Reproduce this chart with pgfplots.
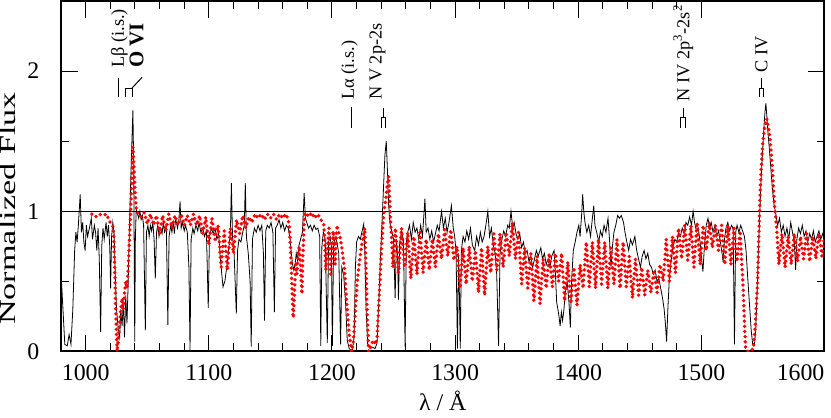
\documentclass[border=0pt]{standalone}
\usepackage{pgfplots}
\pgfplotsset{compat=1.18}
\usepackage{fontspec}
\setmainfont{Liberation Serif}
\begin{document}
\begin{tikzpicture}
\begin{axis}[
  width=384.5pt, height=176.5pt, scale only axis,
  xmin=980, xmax=1600, ymin=0, ymax=2.5,
  scaled ticks=false,
  xtick={1000,1100,...,1500}, minor x tick num=4,
  extra x ticks={1580.6}, extra x tick labels={1600}, extra x tick style={major tick length=0pt},
  ytick={0,1,2}, minor y tick num=1,
  major tick length=8.5pt, minor tick length=4pt,
  tick style={black, line width=0.5pt},
  axis line style={line width=1pt},
  tick label style={font=\fontsize{12}{14}\selectfont},
  /pgf/number format/assume math mode=true,
  /pgf/number format/1000 sep={},
  xticklabel style={anchor=base, yshift=-14.5pt},
  yticklabel style={anchor=east, inner sep=0pt, xshift=-10.8pt},
  xlabel={λ / Å}, ylabel={\scalebox{1.5}[1]{Normalized Flux}},
  xlabel style={at={(axis description cs:0.5,-0.17)}, anchor=base, font=\fontsize{12}{14}\selectfont},
  ylabel style={at={(axis description cs:-0.0585,0.408)}, anchor=south, inner sep=0pt, font=\fontsize{11.5}{14}\selectfont},
]
\addplot[black, line width=0.4pt] coordinates {(980,1) (1600,1)};
% observed spectrum
\addplot[black, line width=0.4pt] table {
980 0.55
981.5 0.3
983 0.05
985 0.04
986.5 0.12
988 0.05
989.5 0.3
991 0.72
992 0.85
993 0.78
994 0.9
995.5 1.12
996.5 0.85
997.5 0.92
998.5 0.78
999.5 0.72
1000.5 0.9
1001.5 0.82
1003 0.88
1004.5 0.95
1005.5 0.8
1007 0.9
1008 0.85
1009 0.72
1010 0.88
1011 0.66
1012.1 0.14
1013 0.75
1014 0.88
1015 0.8
1016.5 0.92
1017.5 0.82
1018.5 0.9
1019.5 0.75
1020.2 0.45
1021 0.82
1022 0.92
1023 0.85
1024 0.55
1025 0.3
1026.5 0.15
1027.5 0.1
1028.5 0.3
1029.5 0.18
1030.5 0.35
1031.5 0.1
1032.5 0.4
1033.5 0.2
1034.5 0.5
1035.5 0.9
1036.5 1.2
1037.5 1.5
1038.3 1.72
1039 1.3
1039.5 0.5
1039.8 0.07
1040.3 0.8
1041 1.02
1042 0.98
1043 0.95
1044 1.0
1045 0.94
1046 0.97
1047 0.9
1048.4 0.15
1049.3 0.85
1050.5 0.9
1051.5 0.82
1052.5 0.9
1053.5 0.86
1054.5 0.92
1055.5 0.8
1056.5 0.52
1057.5 0.85
1058.5 0.9
1059.5 0.82
1060.5 0.88
1062 0.84
1063 0.92
1064 0.85
1065.5 0.88
1066.7 0.19
1067.7 0.82
1069 0.9
1070 0.85
1071 0.92
1072 0.84
1073 0.95
1074.5 0.88
1075.5 0.92
1076.6 1.07
1077.5 0.88
1078.5 0.92
1080 0.86
1081 0.9
1082.5 0.85
1083.8 0.6
1084.7 0.01
1085.6 0.8
1087 0.88
1088 0.84
1089.5 0.9
1091 0.86
1092 0.92
1093.5 0.85
1095 0.88
1096.5 0.82
1098 0.86
1099.5 0.31
1100.5 0.82
1102 0.88
1103.5 0.84
1105 0.88
1106.5 0.8
1108 0.84
1109 0.7
1110.5 0.55
1111.5 0.46
1113 0.5
1114.5 0.6
1116 0.72
1117.5 0.85
1118.3 1.2
1119.2 0.82
1120.5 0.7
1122.3 0.27
1123.3 0.72
1124.5 0.8
1126 0.78
1127.5 0.85
1128.8 0.9
1129.6 1.2
1130.5 0.82
1132 0.7
1133.5 0.5
1134.4 0.035
1135.4 0.8
1137 0.88
1138.5 0.85
1140 0.9
1141.5 0.86
1143 0.9
1144.3 0.7
1145.2 0.22
1146.2 0.86
1147.5 0.9
1149 0.88
1150.5 0.92
1152 0.85
1153.2 0.28
1154.2 0.88
1155.5 0.9
1157 0.94
1158.5 0.88
1160 0.92
1161.5 0.86
1163 0.9
1164.5 0.88
1166 0.8
1167 0.7
1168 0.62
1169 0.58
1170 0.62
1171 0.7
1172 0.65
1173 0.75
1174.5 0.8
1176 0.85
1177.4 1.13
1178.4 0.95
1179.5 0.92
1181 0.88
1182.5 0.9
1184 0.86
1185.5 0.9
1187 0.87
1188.5 0.88
1190 0.82
1190.9 0.04
1191.8 0.75
1193 0.85
1194.5 0.8
1196.2 0.06
1197.2 0.78
1198.5 0.82
1199.5 0.75
1200.3 0.04
1201.3 0.75
1202.5 0.82
1204 0.78
1205.5 0.7
1207 0.05
1208 0.6
1209.5 0.55
1211 0.35
1212.4 0.08
1214 0.02
1216.4 0.0
1218 0.1
1219 0.6
1220 0.78
1221.5 0.82
1223 0.8
1224.5 0.86
1225.8 0.91
1226.7 0.7
1227.7 0.3
1229 0.05
1231 0.02
1233 0.03
1235 0.02
1236.6 0.06
1238 0.35
1239.5 0.7
1240.8 0.95
1242 1.2
1243 1.4
1244.1 1.5
1245 1.3
1246 1.05
1247 0.92
1248.7 0.85
1250 0.8
1251.3 0.38
1252.3 0.8
1253.2 0.7
1254 0.37
1255 0.78
1256.5 0.85
1258 0.8
1259.4 0.035
1260.4 0.78
1261.5 0.85
1263 0.9
1264.5 0.8
1266 0.92
1267.5 0.85
1269 0.88
1270.5 0.8
1272 0.9
1273.5 0.82
1275.5 1.09
1276.5 0.85
1278 0.88
1279.5 0.8
1281 0.86
1282.5 0.78
1284 0.84
1285.5 0.9
1287 0.86
1289 1.0
1290.5 0.88
1292 0.95
1293.5 0.85
1295 0.92
1297 1.04
1298.5 0.88
1299.7 0.82
1300.8 0.7
1301.9 0.02
1302.8 0.7
1303.5 0.4
1304.2 0.02
1305.1 0.72
1306.5 0.82
1308 0.78
1309.5 0.86
1311 0.8
1312.5 0.88
1314 0.76
1315.9 0.72
1317.5 0.82
1319 0.76
1320.5 0.85
1322 0.78
1323.5 0.82
1325 0.9
1326.6 1.0
1328 0.82
1329.5 0.88
1331 0.76
1332.5 0.7
1333.8 0.55
1335.3 0.04
1336.5 0.7
1338 0.8
1339.5 0.86
1341 0.82
1342.7 0.9
1344 0.88
1345.4 1.0
1346.8 0.88
1348 0.92
1349.5 0.84
1351 0.8
1352.5 0.84
1354 0.74
1355.5 0.78
1357 0.7
1358.5 0.72
1360 0.64
1361.5 0.68
1363 0.6
1364.5 0.66
1366 0.72
1367.5 0.68
1369.6 0.74
1371 0.66
1372.5 0.7
1374 0.62
1375.5 0.66
1377 0.6
1378.5 0.68
1380.4 0.72
1381.5 0.55
1382.5 0.35
1383.5 0.3
1384.4 0.25
1385.3 0.18
1386.3 0.28
1387.3 0.22
1388.4 0.3
1389.5 0.42
1391 0.5
1392.5 0.35
1393.6 0.17
1394.6 0.5
1396 0.72
1397.5 0.78
1399 0.85
1400.5 0.9
1401.5 0.82
1402.8 0.98
1403.6 1.12
1404.5 1.0
1405.5 0.92
1407 0.85
1408.5 0.9
1410 0.82
1411.5 0.95
1412.6 1.04
1413.6 0.9
1415 0.85
1416.7 0.78
1418 0.86
1419.5 0.82
1421 0.9
1422.5 0.85
1424.2 0.95
1425.4 0.8
1426.6 0.6
1427.8 0.75
1429 0.85
1430.5 0.9
1432 0.97
1433.5 0.95
1435 0.97
1436.8 0.92
1438 0.85
1439.5 0.78
1441 0.72
1442.5 0.8
1444 0.76
1446 0.82
1447.5 0.72
1449 0.66
1450.5 0.6
1452 0.68
1453.5 0.72
1455 0.66
1456.5 0.7
1458 0.62
1459.5 0.6
1461 0.55
1462.5 0.58
1464 0.5
1465.5 0.52
1467 0.45
1468.5 0.38
1469.8 0.3
1470.8 0.2
1471.8 0.07
1472.8 0.3
1474 0.52
1475.5 0.65
1477 0.75
1478.5 0.8
1480 0.78
1481.5 0.85
1483 0.82
1484.5 0.88
1486 0.84
1487.5 0.92
1489 0.9
1490.5 0.96
1492 0.9
1493.3 1.0
1494.5 0.92
1496 0.86
1497.5 0.88
1499 0.78
1500.3 0.65
1501.3 0.57
1502.5 0.75
1504 0.9
1505.4 0.95
1506.8 0.88
1508 0.92
1509.5 0.85
1511 0.9
1512.5 0.82
1514 0.86
1515.5 0.78
1516.8 0.7
1517.7 0.64
1518.8 0.8
1520 0.88
1521.5 0.92
1523 0.86
1524.5 0.9
1525.8 0.88
1526.9 0.05
1527.9 0.85
1529 0.9
1530.5 0.85
1532 0.9
1533.5 0.86
1535 0.82
1536.3 0.72
1537.5 0.55
1539 0.35
1540.5 0.15
1541.7 0.05
1543 0.04
1544.2 0.15
1545.2 0.4
1546.3 0.7
1547.3 0.95
1548.4 1.2
1549.6 1.4
1550.8 1.6
1551.8 1.72
1552.4 1.77
1553.2 1.68
1554.2 1.55
1555.2 1.45
1556.5 1.3
1557.8 1.15
1559 1.05
1560.5 0.98
1562 0.9
1563.5 0.95
1565 0.85
1566.5 0.9
1568 0.82
1569.5 0.88
1571 0.8
1572.6 0.92
1574 0.85
1575.5 0.78
1576.6 0.58
1577.6 0.8
1579 0.88
1580.5 0.84
1582 0.9
1583.5 0.82
1585 0.86
1586.5 0.78
1588 0.84
1589.5 0.8
1591 0.86
1592.5 0.78
1594 0.82
1595.5 0.86
1597 0.8
1598.5 0.84
1600 0.8
};
% model spectrum
\addplot[red, line width=1.9pt, line cap=round, dash pattern=on 0pt off 2.6pt] table {
1005 0.98
1008 0.96
1011 0.98
1014 0.97
1017 0.98
1019 0.93
1021 0.91
1022.5 0.88
1023.5 0.6
1024.5 0.25
1025.5 0.0
1026.5 0.08
1027.5 0.2
1028.5 0.3
1029.5 0.38
1030.5 0.3
1031.5 0.42
1032.5 0.5
1033.5 0.45
1034.5 0.6
1035.5 0.8
1036.5 1.0
1037.5 1.25
1038.3 1.46
1039 1.35
1040 1.15
1041 1.02
1042.5 0.98
1045 0.96
1047.5 0.99
1050 0.91
1052.5 0.98
1055 0.9
1057.5 0.97
1060 0.84
1062.5 0.97
1065 0.86
1067.5 0.98
1070 0.88
1072.5 0.97
1075 0.9
1077.5 0.98
1080 0.9
1082.5 0.97
1085 0.9
1087.5 0.98
1090 0.9
1092.5 0.97
1095 0.84
1097.5 0.96
1100 0.76
1102.5 0.95
1105 0.8
1107.5 0.9
1110 0.6
1112.5 0.86
1115 0.58
1117.5 0.88
1120 0.7
1122.5 0.94
1125 0.84
1127.5 0.97
1130 0.88
1132.5 0.96
1135 0.92
1137.5 0.98
1140 0.95
1142.5 0.98
1145 0.94
1147.5 0.98
1150 0.95
1152.5 0.98
1155 0.94
1157.5 0.98
1160 0.95
1162.5 0.98
1164.5 0.94
1165.5 0.88
1166.5 0.7
1167.5 0.45
1168.5 0.24
1169.5 0.4
1170.5 0.62
1171.5 0.55
1172.5 0.7
1173.5 0.75
1174.5 0.6
1175.5 0.41
1176.5 0.7
1177.5 0.95
1178.5 0.99
1181 0.96
1183.5 0.99
1186 0.95
1188.5 0.98
1191 0.94
1193.5 0.9
1195 0.58
1197.5 0.88
1199 0.55
1201 0.86
1202.5 0.62
1204 0.9
1205.6 0.84
1207 0.8
1208.3 0.72
1210 0.6
1212 0.35
1214 0.12
1215.9 0.0
1217.5 0.08
1219 0.3
1220.5 0.5
1222 0.62
1223.5 0.72
1225 0.8
1226.6 0.88
1227.5 0.65
1228.5 0.3
1229.8 0.0
1231 0.02
1232.5 0.06
1234 0.08
1235.5 0.05
1236.6 0.1
1237.5 0.25
1238.5 0.42
1239.5 0.6
1240.5 0.78
1241.5 0.92
1242.5 1.02
1243.8 1.09
1245 1.2
1246 1.25
1246.8 1.1
1247.5 0.95
1248.3 0.82
1249.5 0.6
1251.5 0.88
1254 0.56
1256.5 0.88
1259 0.6
1261.5 0.85
1264 0.52
1266.5 0.82
1269 0.55
1271.5 0.85
1274 0.56
1276.5 0.8
1279 0.58
1281.5 0.8
1284 0.6
1286.5 0.84
1289 0.66
1291.5 0.87
1294 0.68
1296.5 0.87
1299 0.65
1301.5 0.75
1304 0.45
1306.5 0.74
1309 0.48
1311.5 0.75
1314 0.5
1316.5 0.72
1319 0.42
1321.5 0.74
1324 0.4
1326.5 0.75
1329 0.56
1331.5 0.84
1334 0.58
1336.5 0.84
1339 0.6
1341.5 0.85
1344 0.68
1346.5 0.92
1349 0.66
1351.5 0.85
1354 0.48
1356.5 0.74
1359 0.45
1361.5 0.7
1364 0.36
1366.5 0.68
1369 0.34
1371.5 0.66
1374 0.45
1376.5 0.7
1379 0.46
1381.5 0.7
1384 0.5
1386.5 0.7
1389 0.36
1391.5 0.64
1394 0.34
1396.5 0.6
1399 0.33
1401.5 0.62
1404 0.45
1406.5 0.78
1409 0.46
1411.5 0.78
1414 0.45
1416.5 0.8
1419 0.48
1421.5 0.78
1424 0.45
1426.5 0.74
1429 0.48
1431.5 0.8
1434 0.45
1436.5 0.78
1439 0.46
1441.5 0.68
1444 0.38
1446.5 0.66
1449 0.4
1451.5 0.6
1454 0.4
1456.5 0.58
1459 0.42
1461.5 0.58
1464 0.42
1466.5 0.62
1469 0.5
1471.5 0.8
1474 0.5
1476.5 0.82
1479 0.56
1481.5 0.88
1484 0.66
1486.5 0.9
1489 0.65
1491.5 0.9
1494 0.6
1496.5 0.92
1499 0.62
1501.5 0.9
1504 0.72
1506.5 0.92
1509 0.74
1511.5 0.9
1514 0.72
1516.5 0.9
1519 0.62
1521.5 0.9
1524 0.62
1526.5 0.88
1529 0.64
1531.5 0.86
1533 0.6
1534 0.45
1535 0.2
1536 0.02
1538 0.0
1540 0.0
1542 0.02
1543.5 0.15
1544.5 0.3
1545.7 0.5
1547 0.92
1548.4 1.28
1550 1.5
1551.5 1.6
1553 1.66
1554.5 1.6
1556 1.5
1557.8 1.3
1559 1.1
1560 0.98
1561 0.9
1563 0.62
1565.5 0.84
1568 0.6
1570.5 0.82
1573 0.62
1575.5 0.84
1578 0.64
1580.5 0.82
1583 0.66
1585.5 0.84
1588 0.64
1590.5 0.82
1593 0.66
1595.5 0.84
1598 0.68
1600 0.82
};
% line identifications
\begin{scope}[line width=0.5pt]
\draw (axis cs:1026.9,1.816) -- (axis cs:1026.9,1.950);
\draw (axis cs:1032.3,1.816) -- (axis cs:1032.3,1.879) -- (axis cs:1037.6,1.879) -- (axis cs:1037.6,1.816);
\draw (axis cs:1037.6,1.879) -- (axis cs:1045.7,1.955);
\draw (axis cs:1216.1,1.596) -- (axis cs:1216.1,1.745);
\draw (axis cs:1241.9,1.738) -- (axis cs:1241.9,1.667);
\draw (axis cs:1240.3,1.596) -- (axis cs:1240.3,1.667) -- (axis cs:1243.5,1.667) -- (axis cs:1243.5,1.596);
\draw (axis cs:1485.2,1.738) -- (axis cs:1485.2,1.667);
\draw (axis cs:1483.0,1.596) -- (axis cs:1483.0,1.667) -- (axis cs:1487.3,1.667) -- (axis cs:1487.3,1.596);
\draw (axis cs:1549.2,1.950) -- (axis cs:1549.2,1.879);
\draw (axis cs:1547.6,1.816) -- (axis cs:1547.6,1.879) -- (axis cs:1550.8,1.879) -- (axis cs:1550.8,1.816);
\end{scope}
\begin{scope}[every node/.style={rotate=90, anchor=base west, inner sep=0pt, font=\fontsize{9.2}{11}\selectfont}]
\node at (axis cs:1031.0,2.021) {Lβ (i.s.)};
\node[font=\fontsize{10.5}{12}\selectfont\bfseries] at (axis cs:1046.8,2.021) {O VI};
\node at (axis cs:1217.7,1.794) {Lα (i.s.)};
\node at (axis cs:1240.3,1.794) {N V 2p-2s};
\node at (axis cs:1490.3,1.780) {N IV 2p\textsuperscript{3}-2s\textsuperscript{2}};
\node at (axis cs:1553.6,1.986) {C IV};
\end{scope}
\end{axis}
\end{tikzpicture}
\end{document}
